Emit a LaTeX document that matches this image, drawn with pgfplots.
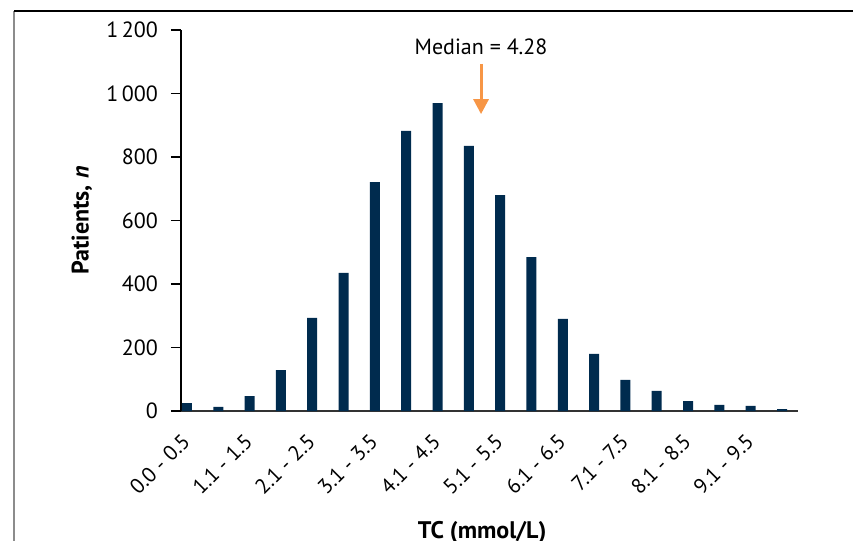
\documentclass[border=0pt]{standalone}
\usepackage{pgfplots}
\pgfplotsset{compat=1.18}
\usetikzlibrary{arrows.meta}
\usepackage{fontspec}
\setmainfont{PT Sans}
\definecolor{barnavy}{RGB}{0,43,78}
\definecolor{medorange}{RGB}{247,150,70}

% patients per TC class (class index 0..19)
\pgfplotstableread{
x n
0 25
1 13
2 47
3 129
4 293
5 435
6 721
7 882
8 970
9 835
10 680
11 485
12 290
13 180
14 98
15 63
16 31
17 19
18 16
19 6
}\tcdata

\begin{document}
\begin{tikzpicture}
\useasboundingbox (0,0) rectangle (426.5pt,270.5pt);
\draw[gray!90, line width=0.7pt] (7pt,-5pt) -- (7pt,265pt);
\draw[black, line width=0.7pt] (7pt,265pt) -- (440pt,265pt);
\begin{axis}[
  at={(90.5pt,65pt)}, anchor=south west,
  scale only axis, width=308.5pt, height=190.5pt,
  xmin=-0.19, xmax=19.51, ymin=0, ymax=1200,
  ybar, bar width=5pt, bar shift=0pt,
  axis x line=bottom, axis y line=left,
  x axis line style={-, line width=0.9pt, black!80},
  y axis line style={-, line width=0.8pt},
  font=\fontsize{11}{13}\selectfont,
  ytick={0,200,...,1200},
  tick align=outside, major tick length=5pt,
  ytick style={line width=0.8pt, black},
  xtick style={draw=none},
  xtick={0,2,...,18},
  xticklabels={0.0 - 0.5,1.1 - 1.5,2.1 - 2.5,3.1 - 3.5,4.1 - 4.5,5.1 - 5.5,6.1 - 6.5,7.1 - 7.5,8.1 - 8.5,9.1 - 9.5},
  xticklabel style={xshift=2pt, yshift=-6pt, rotate=45, anchor=east, font=\fontsize{10.6}{12}\selectfont},
  yticklabel style={xshift=-3pt, font=\fontsize{11}{13}\selectfont},
  /pgf/number format/.cd, 1000 sep={\,}, assume math mode=true, /pgfplots/.cd,
  xlabel={\textbf{TC (mmol/L)}},
  ylabel={\textbf{Patients, \textit{n}}},
  label style={font=\fontsize{12}{14}\selectfont},
  xlabel style={at={(axis description cs:0.488,-0.318)}, anchor=center},
  ylabel style={at={(axis description cs:-0.1605,0.5)}, anchor=center, rotate=0},
  clip=false,
]
\addplot[fill=barnavy, draw=none] table[x=x, y=n] {\tcdata};
\node[anchor=center] at (axis cs:9.39,1148) {Median = 4.28};
\draw[medorange, line width=1.5pt, -{Triangle[width=7.5pt,length=7.5pt]}] (axis cs:9.39,1093) -- (axis cs:9.39,935);
\end{axis}
\end{tikzpicture}
\end{document}
